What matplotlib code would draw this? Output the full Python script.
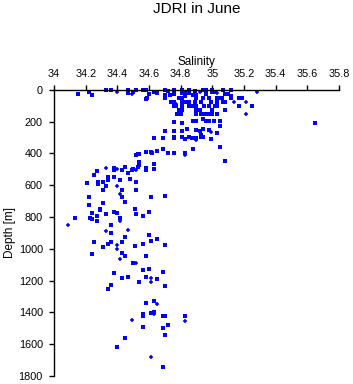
import matplotlib
matplotlib.use('Agg')
import matplotlib.pyplot as plt

plt.rcParams['font.family'] = ['Liberation Sans', 'DejaVu Sans']

# Salinity / depth samples, drawn as squares
sal_sq = [34.15, 34.22, 34.24, 34.33, 34.36, 34.47, 34.47, 34.50, 34.52, 34.56,
          34.58, 34.60, 34.59, 34.58, 34.63, 34.65, 34.70, 34.72, 34.70, 34.73,
          34.70, 34.76, 34.76, 34.75, 34.76, 34.79, 34.83, 34.83, 34.74, 34.77,
          34.76, 34.79, 34.80, 34.78, 34.79, 34.76,
          34.81, 34.81, 34.85, 34.85, 34.88, 34.89, 34.90, 34.94, 34.96, 34.96,
          35.00, 35.00, 35.01, 35.02, 35.07, 35.08, 35.10, 35.12, 35.12, 35.12,
          35.17, 35.19, 34.81, 34.90, 34.94, 34.98, 35.03, 35.05, 35.06,
          34.81, 34.83, 34.85, 34.89, 34.93, 34.99, 35.03, 35.07, 35.08,
          34.81, 34.85, 34.87, 34.90, 34.95, 34.98, 35.02, 35.03, 35.17, 35.25,
          34.81, 34.90, 34.92, 35.00, 35.08,
          34.80, 34.90, 34.93, 34.95, 34.97, 35.00, 35.03,
          34.94, 34.88, 34.90, 34.96, 34.98, 35.01, 35.05,
          35.65, 34.81, 35.05, 34.84, 34.81, 34.90, 34.92, 34.94, 34.98, 35.03,
          34.93, 34.81, 34.85, 34.87, 34.83, 34.90, 34.93, 34.94, 34.99, 34.88,
          35.05, 34.83, 35.08,
          34.76, 34.70, 34.63, 34.69, 34.76, 34.76, 34.53, 34.52, 34.54, 34.58,
          34.61, 34.62, 34.65, 34.69, 34.72, 34.76,
          34.63, 34.63, 34.58, 34.58, 34.54, 34.54, 34.53, 34.49, 34.50, 34.47,
          34.45, 34.43, 34.38, 34.38, 34.27, 34.25, 34.21, 34.28, 34.28, 34.31,
          34.34, 34.33, 34.31, 34.22, 34.22, 34.31, 34.29, 34.29, 34.24, 34.23,
          34.24, 34.27, 34.27, 34.33, 34.34, 34.38, 34.42, 34.43, 34.43, 34.45,
          34.48, 34.52, 34.52, 34.61, 34.70, 34.51, 34.52, 34.56, 34.60, 34.38,
          34.40, 34.36, 34.42, 34.13,
          34.36, 34.25, 34.36, 34.34, 34.31, 34.43, 34.45, 34.51, 34.56, 34.60,
          34.61, 34.65, 34.70, 34.24, 34.43, 34.45, 34.58, 34.50, 34.38, 34.43,
          34.47, 34.56, 34.60, 34.58, 34.54, 34.65, 34.69, 34.70, 34.36, 34.34,
          34.58, 34.63, 34.56, 34.56, 34.63, 34.61, 34.69, 34.70, 34.56, 34.69,
          34.72, 34.70, 34.83, 34.45, 34.40, 34.69]
depth_sq = [25, 12, 31, 0, 0, 0, 19, 12, 0, 0,
            0, 25, 50, 56, 12, 19, 0, 6, 31, 31,
            50, 0, 25, 75, 75, 50, 19, 37, 75, 100,
            100, 125, 128, 150, 150, 256,
            2, 17, 2, 21, 31, 6, 35, 2, 2, 29,
            2, 14, 14, 14, 2, 29, 29, 2, 37, 52,
            52, 52, 52, 52, 52, 52, 52, 52, 52,
            77, 77, 77, 77, 77, 77, 77, 77, 77,
            102, 102, 102, 102, 102, 102, 102, 102, 102, 102,
            128, 128, 128, 128, 128,
            152, 152, 152, 152, 152, 152, 152,
            183, 197, 197, 197, 197, 197, 197,
            208, 208, 229, 246, 258, 254, 260, 248, 254, 271,
            281, 296, 296, 302, 308, 302, 296, 296, 308, 369,
            358, 396, 446,
            202, 256, 304, 306, 296, 306, 406, 408, 406, 392,
            392, 400, 386, 375, 400, 400,
            469, 500, 492, 504, 454, 475, 487, 504, 500, 521,
            487, 504, 490, 504, 508, 535, 583, 579, 592, 581,
            569, 606, 633, 673, 725, 710, 748, 756, 773, 804,
            814, 792, 823, 779, 546, 546, 569, 627, 677, 706,
            563, 579, 627, 671, 669, 748, 781, 794, 767, 767,
            777, 850, 808, 809,
            898, 958, 958, 973, 990, 958, 927, 983, 971, 915,
            952, 940, 977, 1033, 1027, 1044, 1046, 1092, 1154, 1183,
            1179, 1133, 1127, 1177, 1210, 1190, 1144, 1233, 1227, 1252,
            1340, 1329, 1413, 1421, 1398, 1402, 1421, 1423, 1490, 1500,
            1477, 1540, 1425, 1560, 1617, 1746]

# samples drawn as plus signs
sal_plus = [34.40, 34.49, 34.77, 35.28, 35.21, 35.14, 35.21, 35.03, 34.92, 34.90,
            34.83, 34.99, 34.33, 34.40, 34.40, 34.42, 34.52, 34.09, 34.42, 34.33,
            34.47, 34.40, 34.40, 34.42, 34.52, 34.61, 34.61, 34.49, 34.83, 34.61,
            34.65, 34.63]
depth_plus = [12, 25, 87, 14, 77, 77, 152, 21, 12, 315,
              408, 264, 490, 498, 602, 656, 502, 850, 825, 889,
              883, 977, 1002, 1065, 1090, 1183, 1206, 1446, 1452, 1683,
              1346, 1413]

sal_ticks = [34, 34.2, 34.4, 34.6, 34.8, 35, 35.2, 35.4, 35.6, 35.8]
depth_ticks = [0, 200, 400, 600, 800, 1000, 1200, 1400, 1600, 1800]

fig = plt.figure(figsize=(3.53, 3.84), dpi=100)
ax = fig.add_axes([0.153, 0.021, 0.807, 0.745])

ax.plot(sal_sq, depth_sq, linestyle='none', marker='s', markersize=2.2,
        color='#0000ff', markeredgewidth=0, clip_on=False)
ax.plot(sal_plus, depth_plus, linestyle='none', marker='+', markersize=3.2,
        color='#0000ff', markeredgewidth=1.1, clip_on=False)

ax.set_xlim(34, 35.8)
ax.set_ylim(1800, 0)
ax.set_xticks(sal_ticks)
ax.set_xticklabels(['34', '34.2', '34.4', '34.6', '34.8', '35', '35.2', '35.4', '35.6', '35.8'])
ax.set_yticks(depth_ticks)

ax.xaxis.tick_top()
ax.xaxis.set_label_position('top')
ax.spines['right'].set_visible(False)
ax.spines['bottom'].set_visible(False)
for s in ['top', 'left']:
    ax.spines[s].set_linewidth(1.0)
ax.tick_params(direction='out', length=3.5, width=1.0, labelsize=7.8, pad=4.5)

ax.set_xlabel('Salinity', fontsize=8.5, labelpad=3)
ax.set_ylabel('Depth [m]', fontsize=8.5, labelpad=2)
fig.text(0.558, 0.977, 'JDRI in June', ha='center', va='center', fontsize=11)

fig.savefig('out.png', dpi=100)
